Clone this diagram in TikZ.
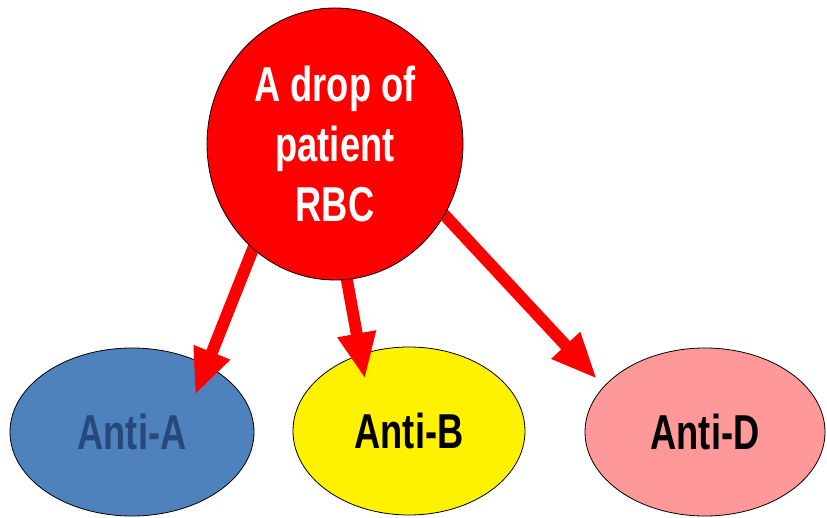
\documentclass[tikz,border=0pt]{standalone}
\usepackage{fontspec}
\setmainfont{Liberation Sans}[FakeStretch=0.74]
\usetikzlibrary{arrows.meta,shapes.geometric}
\pgfdeclarelayer{front}
\pgfsetlayers{main,front}
\definecolor{blueA}{RGB}{79,129,189}
\definecolor{textA}{RGB}{38,72,122}
\definecolor{pinkD}{RGB}{255,153,153}
\begin{document}
\begin{tikzpicture}[x=1pt,y=1pt,
  blob/.style={ellipse,draw=black,line width=0.8pt,inner sep=0pt},
  lbl/.style={font=\fontsize{49}{60}\selectfont\bfseries,align=center},
  arr/.style={draw=red,line width=12pt,shorten <=-20pt,-{Triangle[width=36pt,length=46pt]}}]
\useasboundingbox (0,0) rectangle (827,517);
\begin{pgfonlayer}{front}
\node[blob,fill=red,minimum width=256pt,minimum height=272pt,lbl,text=white] (top) at (335,373) {A drop of\\patient\\RBC};
\end{pgfonlayer}
\node[blob,fill=blueA,minimum width=244pt,minimum height=168pt,lbl,text=textA] (a) at (132,85) {Anti-A};
\node[blob,fill=yellow,minimum width=232pt,minimum height=168pt,lbl,text=black] (b) at (409,86) {Anti-B};
\node[blob,fill=pinkD,minimum width=240pt,minimum height=168pt,lbl,text=black] (d) at (705,85) {Anti-D};
\coordinate (ta) at (195,122);
\coordinate (tb) at (365,138);
\coordinate (td) at (597,138);
\draw[arr] (top.232) -- (ta);
\draw[arr] (top.275) -- (tb);
\draw[arr] (top.327) -- (td);
\end{tikzpicture}
\end{document}
